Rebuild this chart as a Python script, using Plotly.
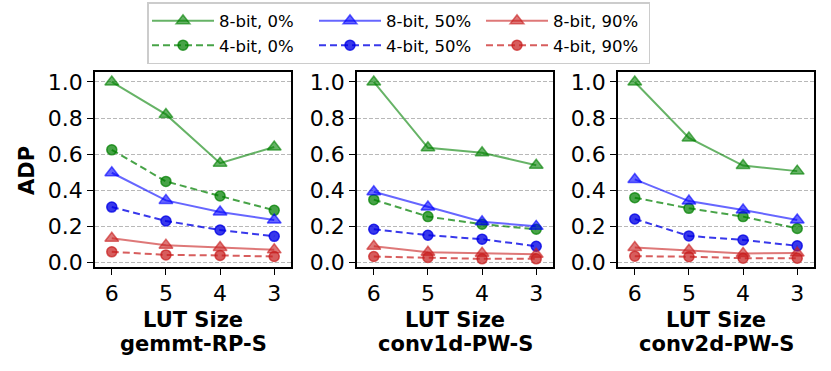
import plotly.graph_objects as go

lut_sizes = [6, 5, 4, 3]
panel_titles = ["gemmt-RP-S", "conv1d-PW-S", "conv2d-PW-S"]
series_names = ["8-bit, 0%", "4-bit, 0%", "8-bit, 50%", "4-bit, 50%", "8-bit, 90%", "4-bit, 90%"]

gemmt_8bit_0 = [1.0, 0.82, 0.55, 0.64]
gemmt_4bit_0 = [0.624, 0.449, 0.368, 0.289]
gemmt_8bit_50 = [0.497, 0.344, 0.28, 0.235]
gemmt_4bit_50 = [0.307, 0.23, 0.18, 0.145]
gemmt_8bit_90 = [0.134, 0.096, 0.083, 0.07]
gemmt_4bit_90 = [0.059, 0.042, 0.039, 0.033]

conv1d_8bit_0 = [1.0, 0.635, 0.608, 0.539]
conv1d_4bit_0 = [0.348, 0.254, 0.212, 0.184]
conv1d_8bit_50 = [0.392, 0.307, 0.226, 0.2]
conv1d_4bit_50 = [0.184, 0.151, 0.129, 0.09]
conv1d_8bit_90 = [0.09, 0.057, 0.051, 0.046]
conv1d_4bit_90 = [0.033, 0.028, 0.02, 0.02]

conv2d_8bit_0 = [1.0, 0.69, 0.537, 0.506]
conv2d_4bit_0 = [0.359, 0.3, 0.254, 0.188]
conv2d_8bit_50 = [0.46, 0.34, 0.291, 0.235]
conv2d_4bit_50 = [0.241, 0.147, 0.125, 0.092]
conv2d_8bit_90 = [0.083, 0.068, 0.05, 0.053]
conv2d_4bit_90 = [0.035, 0.032, 0.024, 0.024]

panels = [
    [gemmt_8bit_0, gemmt_4bit_0, gemmt_8bit_50, gemmt_4bit_50, gemmt_8bit_90, gemmt_4bit_90],
    [conv1d_8bit_0, conv1d_4bit_0, conv1d_8bit_50, conv1d_4bit_50, conv1d_8bit_90, conv1d_4bit_90],
    [conv2d_8bit_0, conv2d_4bit_0, conv2d_8bit_50, conv2d_4bit_50, conv2d_8bit_90, conv2d_4bit_90],
]

groups = ["g", "g", "b", "b", "r", "r"]
line_colors = ["rgba(0,128,0,0.6)", "rgba(0,128,0,0.72)",
               "rgba(0,0,255,0.6)", "rgba(0,0,230,0.78)",
               "rgba(200,30,30,0.6)", "rgba(200,30,30,0.72)"]
symbols = ["triangle-up", "circle"] * 3
dashes = ["solid", "7px,4px"] * 3
msizes = [12, 10] * 3

W, H = 831, 371
x_px = [(95, 291), (357, 553), (618, 814)]
y_px = (72, 267)
font_family = "DejaVu Sans"

fig = go.Figure()
for p, series in enumerate(panels):
    xa = "x" if p == 0 else f"x{p+1}"
    ya = "y" if p == 0 else f"y{p+1}"
    for i, vals in enumerate(series):
        fig.add_trace(go.Scatter(
            x=lut_sizes, y=vals, mode="lines+markers", name=series_names[i],
            xaxis=xa, yaxis=ya, showlegend=(p == 0), legendgroup=groups[i],
            line=dict(color=line_colors[i], width=2, dash=dashes[i]),
            marker=dict(symbol=symbols[i], size=msizes[i], color=line_colors[i],
                        line=dict(color=line_colors[i], width=1.5)),
        ))

layout = dict(
    width=W, height=H, margin=dict(l=0, r=0, t=0, b=0, autoexpand=False),
    paper_bgcolor="white", plot_bgcolor="white",
    font=dict(family=font_family, size=21, color="black"),
    showlegend=True,
    legend=dict(orientation="h", x=147 / W, y=1 - 2 / H, xanchor="left", yanchor="top",
                entrywidth=90, entrywidthmode="pixels", itemwidth=62,
                font=dict(size=16.5, family=font_family),
                bordercolor="#cccccc", borderwidth=1.5, bgcolor="rgba(255,255,255,0.8)",
                tracegroupgap=0, traceorder="grouped"),
)
annotations = []
for p in range(3):
    sx = "" if p == 0 else str(p + 1)
    layout[f"xaxis{sx}"] = dict(
        domain=[x_px[p][0] / W, x_px[p][1] / W], anchor=f"y{sx}",
        range=[6.31, 2.69], tickvals=lut_sizes, ticktext=[str(v) for v in lut_sizes],
        showgrid=False, zeroline=False, showline=True, mirror=True, linecolor="black",
        linewidth=1.5, ticks="outside", ticklen=6, tickwidth=1.3, tickcolor="black",
        tickfont=dict(size=22),
    )
    layout[f"yaxis{sx}"] = dict(
        domain=[1 - y_px[1] / H, 1 - y_px[0] / H], anchor=f"x{sx}",
        range=[-0.025, 1.055], tickvals=[0, 0.2, 0.4, 0.6, 0.8, 1.0],
        ticktext=["0.0", "0.2", "0.4", "0.6", "0.8", "1.0"],
        showgrid=True, gridcolor="#b8b8b8", griddash="4px,2px", gridwidth=1,
        zeroline=False, showline=True, mirror=True, linecolor="black", linewidth=1.5,
        ticks="outside", ticklen=6, tickwidth=1.3, tickcolor="black",
        tickfont=dict(size=22),
    )
    cx = (x_px[p][0] + x_px[p][1]) / 2 / W
    annotations.append(dict(text="<b>LUT Size</b>", x=cx, y=1 - 320 / H, xref="paper", yref="paper",
                            showarrow=False, xanchor="center", yanchor="middle",
                            font=dict(size=21, family=font_family)))
    annotations.append(dict(text=f"<b>{panel_titles[p]}</b>", x=cx, y=1 - 344 / H, xref="paper", yref="paper",
                            showarrow=False, xanchor="center", yanchor="middle",
                            font=dict(size=21, family=font_family)))
annotations.append(dict(text="<b>ADP</b>", x=27 / W, y=1 - 170 / H, xref="paper", yref="paper",
                        showarrow=False, xanchor="center", yanchor="middle", textangle=-90,
                        font=dict(size=21, family=font_family)))
layout["annotations"] = annotations
fig.update_layout(**layout)
fig.write_html("out.html", config={"displayModeBar": False},
               post_script="document.body.style.margin='0';document.body.style.overflow='hidden';")
